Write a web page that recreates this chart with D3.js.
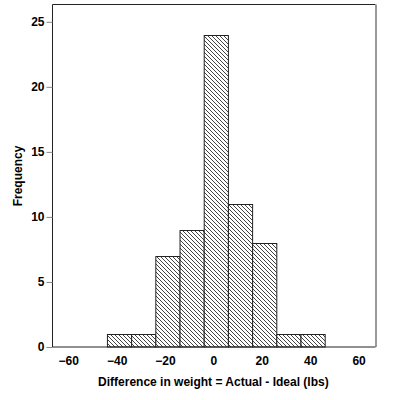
<!DOCTYPE html>
<html><head><meta charset="utf-8">
<script src="https://cdn.jsdelivr.net/npm/d3@7"></script>
<style>body{margin:0;background:#fff}svg{display:block}text{font-family:Arial,"Liberation Sans",sans-serif;font-weight:bold}</style>
</head><body>
<script>
const binStarts = [-44,-34,-24,-14,-4,6,16,26,36];
const binWidth = 10;
const counts = [1,1,7,9,24,11,8,1,1];
const xTicks = [-60,-40,-20,0,20,40,60];
const yTicks = [0,5,10,15,20,25];

const W=394,H=400;
const svg=d3.select("body").append("svg").attr("width",W).attr("height",H);
const defs=svg.append("defs");
const pat=defs.append("pattern").attr("id","hatch").attr("patternUnits","userSpaceOnUse")
  .attr("width",4).attr("height",4);
pat.append("rect").attr("width",4).attr("height",4).attr("fill","#fff");
pat.append("path").attr("d","M-1,-1L5,5M-1,3L1,5M3,-1L5,1").attr("stroke","#444").attr("stroke-width",1);

const pL=52.5,pR=375.5,pT=4.5,pB=347;
const x=d3.scaleLinear().domain([-66.5,67]).range([pL,pR]);
const y=d3.scaleLinear().domain([0,25]).range([pB,21.8]);

// frame
svg.append("line").attr("x1",pL).attr("x2",pR).attr("y1",pT).attr("y2",pT).attr("stroke","#222");
svg.append("line").attr("x1",pR+0.5).attr("x2",pR+0.5).attr("y1",pT).attr("y2",pB).attr("stroke","#999").attr("stroke-width",2);

// bars
svg.append("g").selectAll("rect").data(counts).join("rect")
  .attr("x",(d,i)=>x(binStarts[i])+0.5)
  .attr("width",(d,i)=>x(binStarts[i]+binWidth)-x(binStarts[i]))
  .attr("y",d=>Math.round(y(d))+0.5)
  .attr("height",d=>pB-Math.round(y(d))-0.5)
  .attr("fill","url(#hatch)").attr("stroke","#222").attr("stroke-width",1);

// y axis
const ya=svg.append("g").attr("transform",`translate(${pL},0)`)
  .call(d3.axisLeft(y).tickValues(yTicks).tickSize(6).tickPadding(2));
ya.select(".domain").attr("d",`M0,${pT}V${pB}`).attr("stroke","#222");
ya.selectAll(".tick line").attr("stroke","#888");
ya.selectAll("text").attr("font-size",12).attr("fill","#000");

// x axis
const xa=svg.append("g").attr("transform",`translate(0,${pB})`)
  .call(d3.axisBottom(x).tickValues(xTicks).tickSize(0).tickPadding(9).tickFormat(d3.format("d")));
xa.select(".domain").attr("d",`M${pL},0H${pR}`).attr("stroke","#222");
xa.selectAll("text").attr("font-size",12).attr("fill","#000");

svg.append("text").attr("x",x(0)).attr("y",386).attr("text-anchor","middle")
  .attr("font-size",12).text("Difference in weight = Actual - Ideal (lbs)");
svg.append("text").attr("transform","translate(22,176) rotate(-90)").attr("text-anchor","middle")
  .attr("font-size",12).text("Frequency");
</script>
</body></html>
